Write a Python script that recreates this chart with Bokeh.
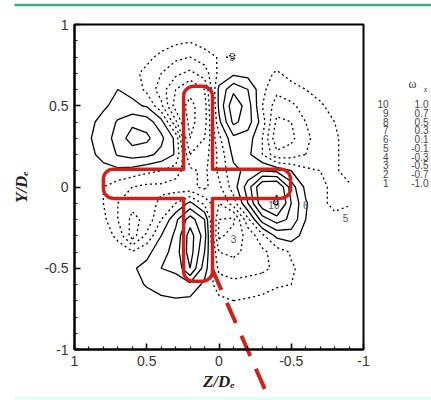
import numpy as np
from bokeh.plotting import figure
from bokeh.models import (Range1d, FixedTicker, NumeralTickFormatter, LinearAxis)
from bokeh.core.properties import value
from bokeh.embed import file_html
from bokeh.resources import INLINE

# ---------------- data ----------------
# grid columns in picture order (Z/De from +0.9 at left to -0.9 at right)
z_cols = [0.9, 0.8, 0.7, 0.6, 0.5, 0.4, 0.3, 0.2, 0.1, 0.0,
          -0.1, -0.2, -0.3, -0.4, -0.5, -0.6, -0.7, -0.8, -0.9]
# grid rows top to bottom (Y/De from +0.9 to -0.9)
y_rows = [0.9, 0.8, 0.7, 0.6, 0.5, 0.4, 0.3, 0.2, 0.1, 0.0,
          -0.1, -0.2, -0.3, -0.4, -0.5, -0.6, -0.7, -0.8, -0.9]
omega_x = [
    [0, 0, 0, 0, 0, 0, -0.05, -0.08, 0, 0, 0, 0, 0, 0, 0, 0, 0, 0, 0],
    [0, 0, 0, 0, -0.05, -0.15, -0.25, -0.3, -0.2, -0.08, -0.12, -0.02, 0, 0, 0, 0, 0, 0, 0],
    [0, 0, 0.02, -0.05, -0.15, -0.3, -0.45, -0.55, -0.4, -0.05, 0.05, 0.02, -0.05, -0.12, -0.05, 0, 0, 0, 0],
    [0, 0.03, 0.1, 0.05, -0.15, -0.4, -0.7, -0.9, -0.7, 0.15, 0.45, 0.3, -0.05, -0.25, -0.15, -0.1, -0.05, 0, 0],
    [0, 0.06, 0.18, 0.14, 0.08, -0.25, -0.8, -1.1, -0.8, 0.15, 0.65, 0.4, -0.1, -0.4, -0.35, -0.2, -0.12, -0.05, 0],
    [0.04, 0.18, 0.32, 0.45, 0.4, 0.18, -0.45, -1.1, -0.8, 0.05, 0.55, 0.4, 0.0, -0.55, -0.5, -0.3, -0.2, -0.1, -0.03],
    [0.08, 0.2, 0.38, 0.6, 0.55, 0.35, 0.05, -1.0, -0.7, -0.15, 0.25, 0.2, -0.1, -0.65, -0.55, -0.35, -0.2, -0.12, -0.05],
    [0.06, 0.15, 0.32, 0.38, 0.35, 0.25, 0.08, -0.7, -0.6, -0.25, 0.15, 0.15, -0.1, -0.45, -0.4, -0.3, -0.2, -0.12, -0.05],
    [-0.02, 0.05, 0.05, 0.02, -0.05, -0.1, -0.2, -0.45, -0.55, -0.25, 0.05, 0.15, 0.3, 0.25, 0.1, -0.05, -0.1, -0.12, -0.05],
    [-0.02, -0.1, -0.2, -0.3, -0.35, -0.35, -0.4, -0.45, -0.55, -0.35, 0.0, 0.4, 0.9, 0.95, 0.4, 0.05, -0.05, -0.15, -0.12],
    [0, -0.1, -0.3, -0.45, -0.4, -0.25, -0.1, 0.15, -0.15, -0.5, -0.2, 0.3, 0.85, 1.05, 0.5, 0.12, -0.05, -0.15, -0.12],
    [0, -0.05, -0.3, -0.55, -0.45, -0.1, 0.25, 0.6, 0.3, -0.7, -0.75, -0.15, 0.4, 0.6, 0.45, 0.1, -0.05, -0.05, 0],
    [0, 0, -0.15, -0.6, -0.25, 0.1, 0.35, 0.8, 0.4, -0.75, -0.6, -0.45, -0.15, 0.15, 0.2, 0.02, -0.02, 0, 0],
    [0, 0, 0, -0.08, 0.05, 0.2, 0.4, 0.8, 0.3, -0.5, -0.55, -0.45, -0.35, -0.2, -0.08, -0.02, 0, 0, 0],
    [0, 0, 0, 0.08, 0.15, 0.3, 0.35, 0.7, 0.2, -0.35, -0.4, -0.4, -0.35, -0.25, -0.12, -0.05, 0, 0, 0],
    [0, 0, 0, 0.02, 0.12, 0.2, 0.2, 0.25, 0.05, -0.2, -0.25, -0.2, -0.18, -0.12, -0.1, -0.05, 0, 0, 0],
    [0, 0, 0, 0, 0, 0.05, 0.08, 0.05, 0, -0.05, -0.1, -0.08, -0.05, -0.02, 0, 0, 0, 0, 0],
    [0] * 19,
    [0] * 19,
]

legend_index = ["10", "9", "8", "7", "6", "5", "4", "3", "2", "1"]
legend_levels = [1.0, 0.7, 0.5, 0.3, 0.1, -0.1, -0.3, -0.5, -0.7, -1.0]
legend_texts = ["1.0", "0.7", "0.5", "0.3", "0.1", "-0.1", "-0.3", "-0.5", "-0.7", "-1.0"]

# contour labels (level index) and where they sit
clabel_text = ["5", "6", "3", "10", "5"]
clabel_z = [-0.09, -0.60, -0.10, -0.38, -0.875]
clabel_y = [0.80, -0.11, -0.32, -0.11, -0.19]

# cross-shaped nozzle outline (Z/De, Y/De)
arm_v_z = (0.245, 0.045)
arm_v_y = (0.62, -0.58)
arm_h_z = (0.80, -0.495)
arm_h_y = (0.11, -0.07)

# dashed guide line
guide_start = (0.045, -0.51)
guide_end = (-0.32, -1.25)

x_ticks = [1, 0.5, 0, -0.5, -1]
y_ticks = [-1, -0.5, 0, 0.5, 1]

# ---------------- layout (pixels inside the figure) ----------------
W, H = 431, 400
FL, FR, FT, FB = 74, 363, 24, 349          # plot box edges
sx = (FR - FL) / (x_ticks[0] - x_ticks[-1])
sy = (FB - FT) / (y_ticks[-1] - y_ticks[0])
x_start = x_ticks[0] + FL / sx
x_end = x_ticks[0] - (W - FL) / sx
y_top = y_ticks[-1] + FT / sy
y_bot = y_ticks[-1] - (H - FT) / sy


def zx(px):  # figure pixel -> Z data
    return x_ticks[0] - (px - FL) / sx


def yy(py):  # figure pixel -> Y data
    return y_ticks[-1] - (py - FT) / sy


p = figure(width=W, height=H, x_range=Range1d(x_start, x_end),
           y_range=Range1d(y_bot, y_top), output_backend="svg",
           toolbar_location=None, min_border=0,
           x_axis_location=None, y_axis_location=None,
           background_fill_color="white", border_fill_color="white")
p.grid.visible = False
p.outline_line_color = None

# page decoration: green rule at top, pale band at bottom
p.line(x=[zx(14), zx(431)], y=[yy(4.5), yy(4.5)], line_color="#3fa986",
       line_width=2.5)
p.quad(left=zx(14), right=zx(431), top=yy(396), bottom=yy(400),
       fill_color="#e2fbf4", line_color=None)

minor = [round(v, 2) for v in np.arange(-1, 1.001, 0.1)]
xax = LinearAxis(fixed_location=y_ticks[0], bounds=(x_ticks[-1], x_ticks[0]))
yax = LinearAxis(fixed_location=x_ticks[0], bounds=(y_ticks[0], y_ticks[-1]))
for ax in (xax, yax):
    ax.ticker = FixedTicker(ticks=x_ticks, minor_ticks=minor)
    ax.formatter = NumeralTickFormatter(format="0.[0]")
    ax.major_tick_in = 6
    ax.major_tick_out = 0
    ax.minor_tick_in = 3
    ax.minor_tick_out = 0
    ax.axis_line_width = 2
    ax.major_tick_line_width = 1.5
    ax.minor_tick_line_width = 1.2
    ax.major_label_text_font = "Liberation Sans"
    ax.major_label_text_font_size = "14px"
    ax.major_label_text_color = "#333333"
    ax.axis_label_text_font = "Liberation Serif"
    ax.axis_label_text_font_style = "bold italic"
    ax.axis_label_text_font_size = "17px"
    ax.axis_label_text_color = "#222222"
xax.major_label_standoff = 6
xax.axis_label_standoff = 3
yax.major_label_standoff = 6
yax.axis_label_standoff = 10
xax.axis_label = "Z/Dₑ"
yax.axis_label = "Y/Dₑ"
p.add_layout(xax, "below")
p.add_layout(yax, "left")

# plot box
p.quad(left=x_ticks[0], right=x_ticks[-1], bottom=y_ticks[0], top=y_ticks[-1],
       fill_color=None, line_color="black", line_width=2)

# contour field
zg = np.array(z_cols)[::-1]
yg = np.array(y_rows)[::-1]
field = np.array(omega_x, dtype=float)[::-1, ::-1]
levels = sorted(legend_levels)
dashes = ["2 3" if lv < 0 else "solid" for lv in levels]
p.contour(zg, yg, field, levels, line_color="black", line_width=1.3,
          line_dash=dashes)

# contour labels
p.text(x=clabel_z, y=clabel_y, text=clabel_text, text_font=value("Liberation Sans"),
       text_font_size="10px", text_color="#555555", text_align="center",
       text_baseline="middle")

# cross outline with rounded arm ends
rx, ry = 0.07, 0.06


def corner(cx, cy, a0, a1, n=7):
    t = np.linspace(a0, a1, n)
    # x axis is reversed: screen-right is decreasing Z
    return list(cx - rx * np.cos(t)), list(cy + ry * np.sin(t))


L, R = arm_v_z
T, B = arm_v_y
HL, HR = arm_h_z
HT, HB = arm_h_y
segs = [
    corner(L - rx, T - ry, np.pi, np.pi / 2),
    corner(R + rx, T - ry, np.pi / 2, 0),
    ([R], [HT]),
    corner(HR + rx, HT - ry, np.pi / 2, 0),
    corner(HR + rx, HB + ry, 0, -np.pi / 2),
    ([R], [HB]),
    corner(R + rx, B + ry, 0, -np.pi / 2),
    corner(L - rx, B + ry, -np.pi / 2, -np.pi),
    ([L], [HB]),
    corner(HL - rx, HB + ry, -np.pi / 2, -np.pi),
    corner(HL - rx, HT - ry, np.pi, np.pi / 2),
    ([L], [HT]),
]
xs, ys = [], []
for sxs, sys_ in segs:
    xs += sxs
    ys += sys_
xs.append(xs[0])
ys.append(ys[0])
p.line(x=xs, y=ys, line_color="#d0201c", line_width=3.5, line_join="round")

# dashed guide line (continues past the plot box)
p.line(x=[guide_start[0], guide_end[0]], y=[guide_start[1], guide_end[1]],
       line_color="#d0201c", line_width=4, line_dash="22 14")

# legend table on the right
row_y0 = yy(103.5)
row_dy = 8.78 / sy
ly = [row_y0 - i * row_dy for i in range(len(legend_index))]
p.text(x=[zx(388)] * len(legend_index), y=ly, text=legend_index,
       text_align="right", text_baseline="middle", text_font_size="10px",
       text_font=value("Liberation Sans"), text_color="#444444")
p.text(x=[zx(428)] * len(legend_texts), y=ly, text=legend_texts,
       text_align="right", text_baseline="middle", text_font_size="10px",
       text_font=value("Liberation Sans"), text_color="#444444")
p.text(x=[zx(412)], y=[yy(83)], text=["ω"], text_align="center",
       text_baseline="middle", text_font_size="12px",
       text_font=value("Liberation Serif"), text_color="#333333")
p.text(x=[zx(425)], y=[yy(89)], text=["x"], text_align="center",
       text_baseline="middle", text_font_size="8px", text_font_style="italic",
       text_font=value("Liberation Serif"), text_color="#333333")

open("out.html", "w").write(file_html(p, INLINE))
